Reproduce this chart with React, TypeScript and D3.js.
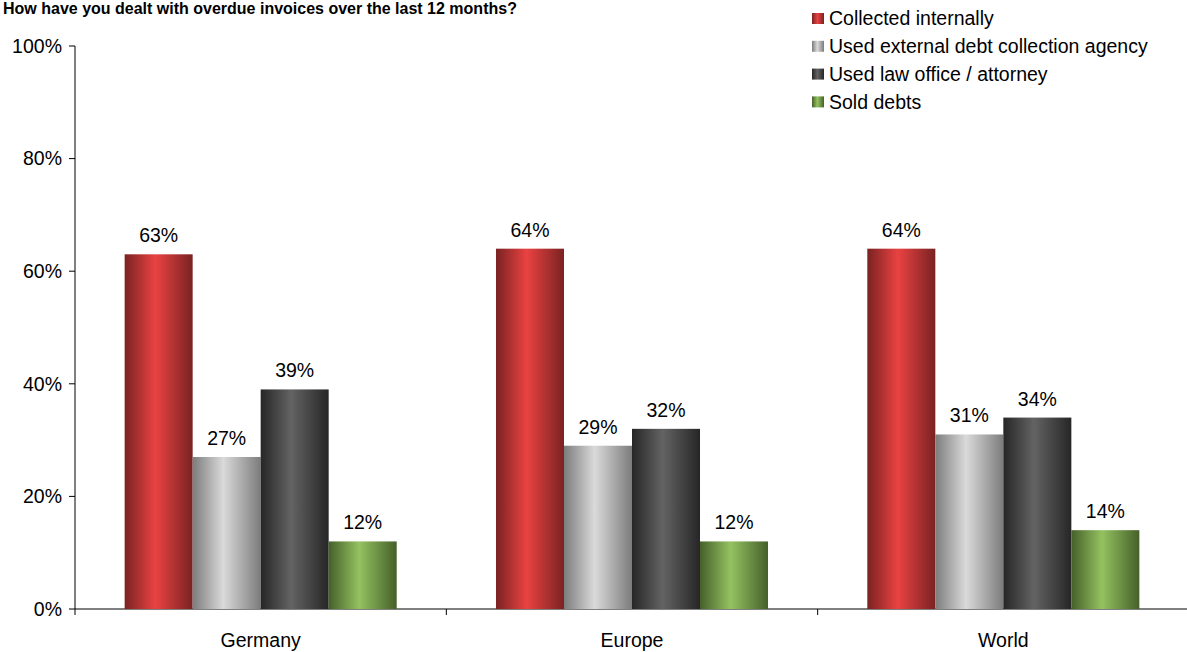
import React from "react";
import * as d3 from "d3";

const categories = ["Germany", "Europe", "World"];
const seriesNames = [
  "Collected internally",
  "Used external debt collection agency",
  "Used law office / attorney",
  "Sold debts",
];
const collectedInternally = [63, 64, 64];
const externalAgency = [27, 29, 31];
const lawOffice = [39, 32, 34];
const soldDebts = [12, 12, 14];
const yTicks = [0, 20, 40, 60, 80, 100];
const title = "How have you dealt with overdue invoices over the last 12 months?";

const seriesValues = [collectedInternally, externalAgency, lawOffice, soldDebts];
const gradients = [
  { edge: "#7a2222", mid: "#ea4242" },
  { edge: "#7c7c7c", mid: "#dadada" },
  { edge: "#262626", mid: "#636363" },
  { edge: "#45602a", mid: "#94c260" },
];

const W = 1187;
const H = 652;
const left = 75;
const right = 1189;
const top = 46;
const bottom = 609;
const FONT = "'Liberation Sans', Arial, sans-serif";
const FS = 19.5;

export default function App() {
  const x = d3.scaleBand<string>().domain(categories).range([left, right]).paddingInner(0).paddingOuter(0);
  const inner = d3
    .scaleBand<number>()
    .domain(d3.range(seriesNames.length))
    .range([0, x.bandwidth()])
    .paddingOuter(0.73)
    .paddingInner(0);
  const y = d3.scaleLinear().domain([0, 100]).range([bottom, top]);
  const bandTicks = [left, ...categories.map((c) => (x(c) as number) + x.bandwidth())];

  return (
    <svg
      width={W}
      height={H}
      style={{ position: "absolute", left: 0, top: 0, background: "#fff" }}
      fontFamily={FONT}
    >
      <defs>
        {gradients.map((g, i) => (
          <linearGradient key={i} id={`g${i}`} x1="0" x2="1" y1="0" y2="0">
            <stop offset="0" stopColor={g.edge} />
            <stop offset="0.45" stopColor={g.mid} />
            <stop offset="1" stopColor={g.edge} />
          </linearGradient>
        ))}
      </defs>
      <text x={3} y={14} fontSize={16} fontWeight="bold" fill="#000">
        {title}
      </text>

      {/* Y axis */}
      <line x1={left} x2={left} y1={top} y2={bottom} stroke="#000" strokeWidth={1} />
      {yTicks.map((t) => (
        <g key={t}>
          <line x1={left - 6} x2={left} y1={y(t)} y2={y(t)} stroke="#000" />
          <text x={left - 13} y={y(t)} dy="0.35em" textAnchor="end" fontSize={FS} fill="#000">
            {t}%
          </text>
        </g>
      ))}

      {/* X axis */}
      <line x1={left} x2={right} y1={bottom} y2={bottom} stroke="#000" />
      {bandTicks.map((t, i) => (
        <line key={i} x1={t} x2={t} y1={bottom} y2={bottom + 6} stroke="#000" />
      ))}
      {categories.map((c) => (
        <text
          key={c}
          x={(x(c) as number) + x.bandwidth() / 2}
          y={bottom + 38}
          textAnchor="middle"
          fontSize={FS}
          fill="#000"
        >
          {c}
        </text>
      ))}

      {/* Bars */}
      {categories.map((c, ci) =>
        seriesValues.map((vals, si) => {
          const bx = (x(c) as number) + (inner(si) as number);
          const v = vals[ci];
          return (
            <g key={`${ci}-${si}`}>
              <rect x={bx} y={y(v)} width={inner.bandwidth()} height={bottom - y(v)} fill={`url(#g${si})`} />
              <text
                x={bx + inner.bandwidth() / 2}
                y={y(v) - 12}
                textAnchor="middle"
                fontSize={FS}
                fill="#000"
              >
                {v}%
              </text>
            </g>
          );
        })
      )}

      {/* Legend */}
      {seriesNames.map((s, i) => (
        <g key={s} transform={`translate(812, ${18.5 + i * 27.8})`}>
          <rect x={0} y={-5.5} width={12} height={11} fill={`url(#g${i})`} />
          <text x={17} y={0} dy="0.35em" fontSize={FS} fill="#000">
            {s}
          </text>
        </g>
      ))}
    </svg>
  );
}
